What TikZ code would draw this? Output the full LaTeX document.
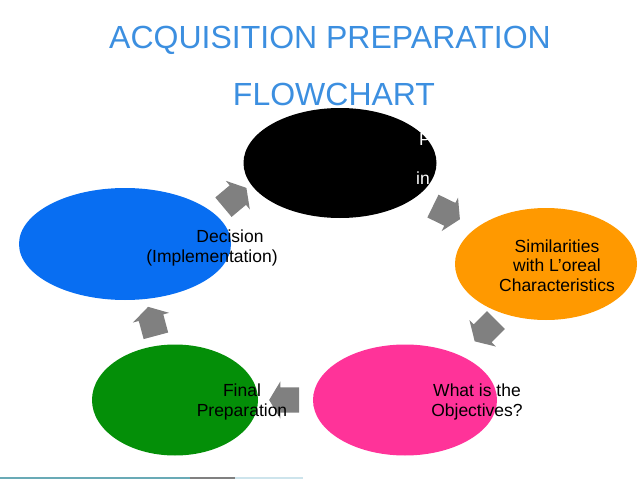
\documentclass[tikz,border=0pt]{standalone}
\usepackage{fontspec}
\setmainfont{Liberation Sans}
\usetikzlibrary{shapes.geometric, shapes.arrows, positioning}
\definecolor{titleblue}{RGB}{60,143,224}
\definecolor{stepblue}{RGB}{8,110,242}
\definecolor{steporange}{RGB}{255,153,0}
\definecolor{steppink}{RGB}{255,51,153}
\definecolor{stepgreen}{RGB}{4,143,8}
\definecolor{flowgray}{RGB}{128,128,128}

\begin{document}
\begin{tikzpicture}[x=1pt,y=-1pt,
    blob/.style={ellipse,draw=none,inner sep=0pt},
    heading/.style={anchor=base,inner sep=0pt,text=titleblue,font=\fontsize{32}{36}\selectfont},
    lbl/.style={anchor=base,inner sep=0pt,align=center,font=\fontsize{17.5}{20}\selectfont},
    flow/.style={single arrow,fill=flowgray,draw=none,inner xsep=0pt,inner ysep=12.5pt,
        minimum height=30pt,single arrow head extend=6pt,single arrow tip angle=118}]
    \useasboundingbox (0,0) rectangle (638,479);

    \node[heading] (title) at (330,48) {ACQUISITION PREPARATION};
    \node[heading] (subtitle) at (334,105) {FLOWCHART};

    \node[blob,fill=black,minimum width=193pt,minimum height=110pt] (gather) at (340,163) {};
    \node[blob,fill=steporange,minimum width=182pt,minimum height=112pt] (similar) at (546,264) {};
    \node[blob,fill=steppink,minimum width=184pt,minimum height=111pt] (objective) at (405,400) {};
    \node[blob,fill=stepgreen,minimum width=166pt,minimum height=111pt] (final) at (175,400) {};
    \node[blob,fill=stepblue,minimum width=212pt,minimum height=112pt] (decide) at (125,244) {};

    \node[flow,rotate=-26] (flowa) at (443,211) {};
    \node[flow,rotate=225] (flowb) at (488,328) {};
    \node[flow,rotate=180] (flowc) at (288,400) {};
    \node[flow,rotate=105] (flowd) at (153,325) {};
    \node[flow,rotate=40] (flowe) at (232,200) {};

    \node[lbl,anchor=base west,text=white] (gathertop) at (419,145) {P};
    \node[lbl,anchor=base west,text=white] (gatherbot) at (416,184) {in};
    \node[lbl] (similartext) at (557,291) {Similarities\\[-0.5pt]with L’oreal\\[-0.5pt]Characteristics};
    \node[lbl] (objectivetext) at (477,416) {What is the\\Objectives?};
    \node[lbl] (finaltext) at (242,416) {Final\\Preparation};
    \node[lbl] (decidetext) at (212,262) {\hspace*{36pt}Decision\\(Implementation)};

    \fill[fill={rgb,255:red,105;green,170;blue,182}] (0,477) rectangle (190,479);
    \fill[fill=flowgray] (190,477) rectangle (235,479);
    \fill[fill={rgb,255:red,205;green,228;blue,236}] (235,477) rectangle (303,479);
\end{tikzpicture}
\end{document}
